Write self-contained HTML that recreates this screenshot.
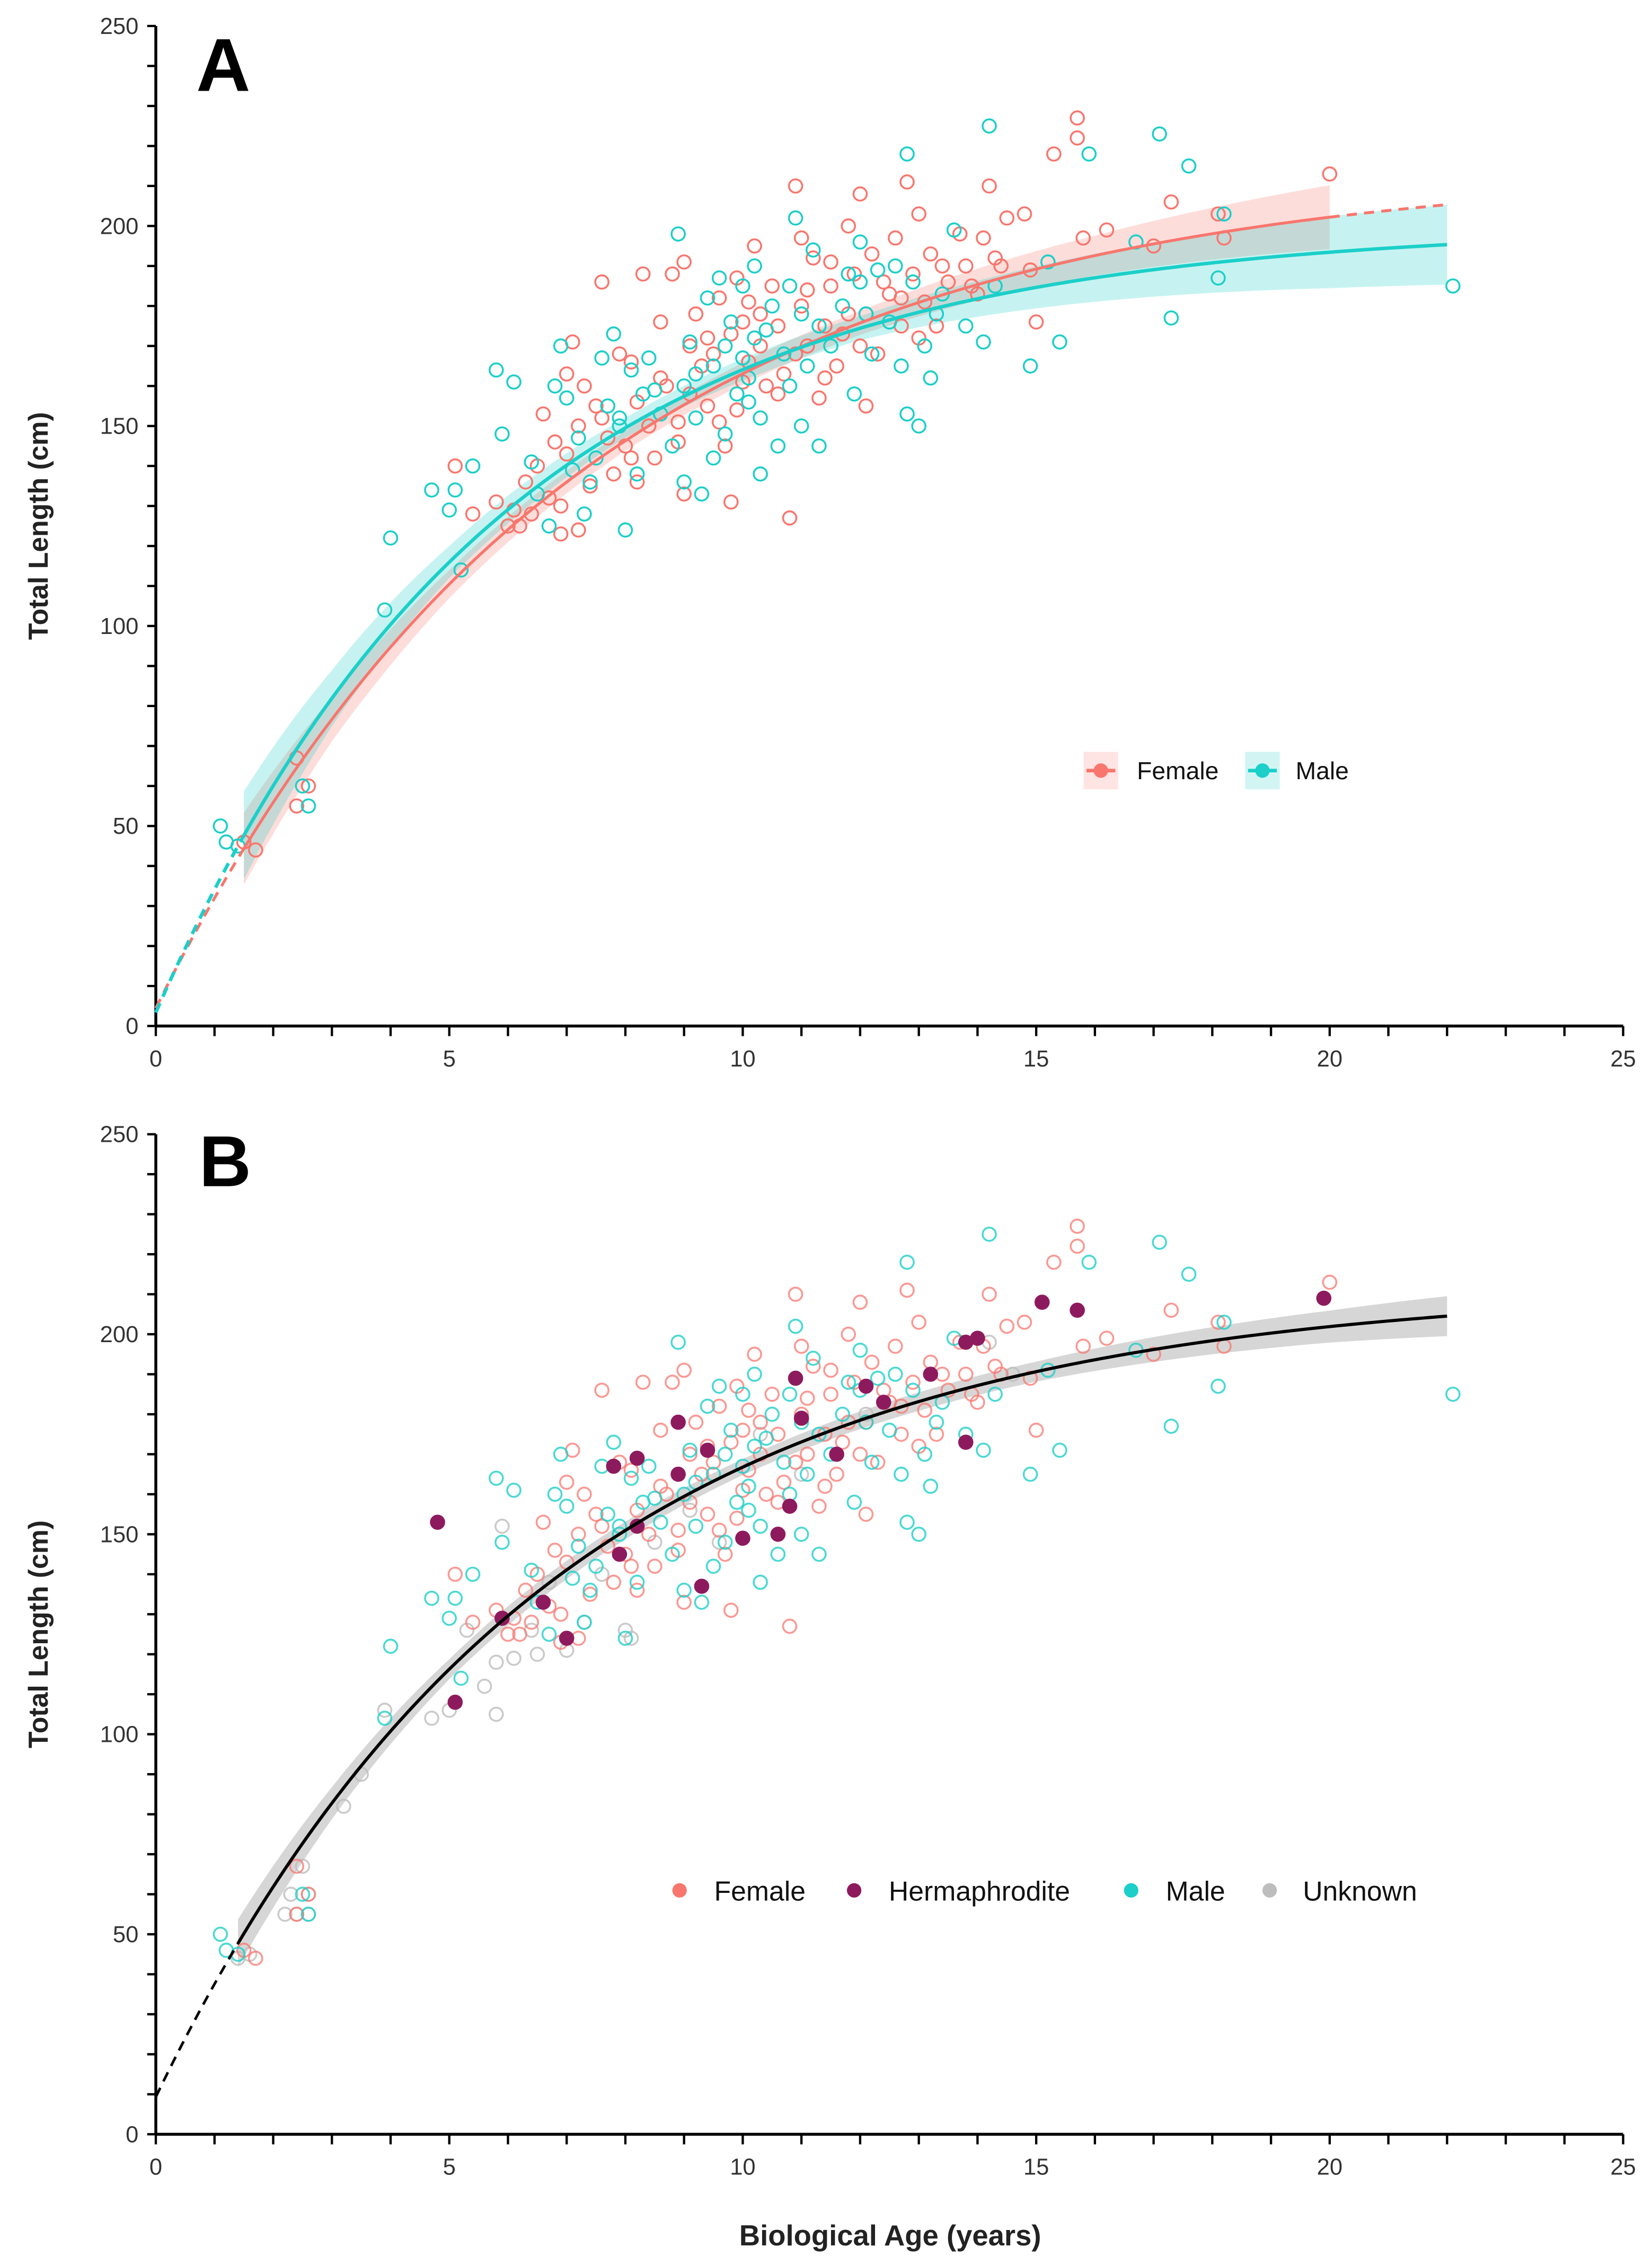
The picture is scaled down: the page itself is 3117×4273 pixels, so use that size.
<!DOCTYPE html>
<html><head><meta charset="utf-8"><style>
html,body{margin:0;padding:0;background:#fff}
svg{display:block}
text{font-family:"Liberation Sans",Arial,sans-serif}
</style></head><body>
<svg id="chart" xmlns="http://www.w3.org/2000/svg" width="3117" height="4273" viewBox="0 0 1145 1569.6" preserveAspectRatio="none">
<g id="panelA"></g>
<g id="panelB"></g>
<text x="617" y="1556" text-anchor="middle" font-size="20" font-weight="bold" fill="#222">Biological Age (years)</text>
</svg>
<script>
const femaleA=[[1.5,46],[1.7,44],[2.4,55],[2.4,67],[2.6,60],[5.1,140],[5.4,128],[5.8,131],[6,125],[6.1,129],[6.2,125],[6.3,136],[6.5,140],[6.6,153],[6.7,132],[6.8,146],[6.9,130],[6.9,123],[7,143],[7,163],[7.1,171],[7.2,150],[7.2,124],[7.3,160],[7.4,135],[7.5,155],[7.6,186],[7.7,147],[7.8,138],[7.9,168],[8,145],[8.1,166],[8.2,156],[8.2,136],[8.3,188],[8.4,150],[8.5,142],[8.6,176],[8.7,160],[8.8,188],[8.9,151],[9,191],[9,133],[9.1,170],[9.2,178],[9.3,165],[9.4,155],[9.5,168],[9.6,182],[9.7,145],[9.8,131],[9.8,173],[9.9,187],[10,161],[10,176],[10.1,181],[10.2,195],[10.3,170],[10.4,160],[10.5,185],[10.6,175],[10.7,163],[10.8,127],[10.9,210],[11,197],[11,180],[11.1,170],[11.2,192],[11.3,157],[11.4,175],[11.5,185],[11.6,165],[11.7,173],[11.8,200],[11.9,188],[12,208],[12.1,178],[12.2,193],[12.3,168],[12.5,183],[12.6,197],[12.7,175],[12.8,211],[12.9,188],[13,203],[13.1,181],[13.2,193],[13.3,175],[13.5,186],[13.7,198],[13.8,190],[14,183],[14.1,197],[14.2,210],[14.3,192],[14.5,202],[14.8,203],[14.9,189],[15,176],[15.3,218],[15.7,227],[15.7,222],[15.8,197],[16.2,199],[17,195],[17.3,206],[18.1,203],[18.2,197],[20,213],[6.4,128],[7.6,152],[8.1,142],[8.6,162],[9.1,158],[9.4,172],[9.6,151],[10.1,166],[10.3,178],[10.6,158],[10.9,168],[11.1,184],[11.4,162],[11.8,178],[12,170],[12.4,186],[12.7,182],[13,172],[13.4,190],[13.9,185],[14.4,190],[12.1,155],[11.5,191],[9.9,154],[8.9,146]];
const maleA=[[1.1,50],[1.2,46],[1.4,45],[2.5,60],[2.6,55],[3.9,104],[4,122],[4.7,134],[5,129],[5.1,134],[5.2,114],[5.4,140],[5.8,164],[5.9,148],[6.1,161],[6.4,141],[6.5,133],[6.7,125],[6.8,160],[6.9,170],[7,157],[7.1,139],[7.2,147],[7.3,128],[7.5,142],[7.6,167],[7.7,155],[7.8,173],[7.9,150],[8,124],[8.1,164],[8.2,138],[8.3,158],[8.4,167],[8.6,153],[8.8,145],[8.9,198],[9,160],[9,136],[9.1,171],[9.2,152],[9.3,133],[9.4,182],[9.5,165],[9.6,187],[9.7,148],[9.8,176],[9.9,158],[10,167],[10,185],[10.1,162],[10.2,190],[10.3,152],[10.3,138],[10.4,174],[10.6,145],[10.7,168],[10.8,185],[10.9,202],[11,178],[11,150],[11.1,165],[11.2,194],[11.3,145],[11.5,170],[11.7,180],[11.9,158],[12,186],[12,196],[12.2,168],[12.3,189],[12.5,176],[12.7,165],[12.8,218],[12.8,153],[12.9,186],[13,150],[13.1,170],[13.2,162],[13.4,183],[13.6,199],[13.8,175],[14.1,171],[14.2,225],[14.3,185],[14.9,165],[15.2,191],[15.4,171],[15.9,218],[16.7,196],[17.1,223],[17.3,177],[17.6,215],[18.1,187],[18.2,203],[22.1,185],[7.4,136],[8.5,159],[9.2,163],[9.7,170],[10.1,156],[10.5,180],[10.8,160],[11.3,175],[11.8,188],[12.1,178],[12.6,190],[13.3,178],[7.9,152],[9.5,142],[10.2,172]];
const hermB=[[4.8,153],[5.1,108],[5.9,129],[6.6,133],[7,124],[7.8,167],[7.9,145],[8.2,152],[8.2,169],[8.9,178],[8.9,165],[9.3,137],[9.4,171],[10,149],[10.6,150],[10.8,157],[10.9,189],[11,179],[11.6,170],[12.4,183],[12.1,187],[13.2,190],[13.8,173],[13.8,198],[14,199],[15.1,208],[15.7,206],[19.9,209]];
const unknownB=[[1.4,44],[1.6,45],[2.2,55],[2.3,60],[2.4,55],[2.5,67],[2.6,60],[2.6,55],[3.2,82],[3.5,90],[3.9,106],[4.7,104],[5,106],[5.3,126],[5.6,112],[5.8,105],[5.8,118],[5.9,152],[6.1,119],[6.4,126],[6.5,120],[6.7,138],[7,121],[7.3,128],[7.6,140],[8,126],[8.1,124],[8.5,148],[9.1,156],[9.6,148],[10.3,175],[10.6,150],[11,165],[12.1,180],[14.2,198],[14.6,190]];
// von Bertalanffy params [Linf, k, t0]
const vbFemale=[215,0.14,-0.15];
const vbMale=[200,0.17,-0.1];
const vbAll=[212,0.15,-0.3];
const ribFemaleAges=[1.5,3,5,8,12,16,20];
const ribFemaleHW=[9,5.5,3.5,2.5,3,5,8];
const ribMaleAges=[1.5,3,5,8,12,16,20,22];
const ribMaleHW=[11,7,4,2.5,3,6,9,10];
const ribAllAges=[1.4,3,5,10,15,20,22];
const ribAllHW=[6,4,2.5,2,2.5,4,5];
const yTicks=[0,50,100,150,200,250];
const xTicks=[0,5,10,15,20,25];
const C={f:'#F8766D',m:'#1CCFC9',h:'#8E1A5E',u:'#BDBDBD'};
const NS='http://www.w3.org/2000/svg';
const px=x=>108+x*40.68;
function mk(tag,attrs,parent){const e=document.createElementNS(NS,tag);for(const k in attrs)e.setAttribute(k,attrs[k]);parent.appendChild(e);return e;}
const vb=(p,t)=>p[0]*(1-Math.exp(-p[1]*(t-p[2])));
function interp(ag,hw,t){if(t<=ag[0])return hw[0];for(let i=1;i<ag.length;i++){if(t<=ag[i]){const f=(t-ag[i-1])/(ag[i]-ag[i-1]);return hw[i-1]+f*(hw[i]-hw[i-1]);}}return hw[hw.length-1];}
function curvePath(p,a,b,py){let d='';for(let t=a;t<=b+1e-9;t+=0.1){d+=(d?'L':'M')+px(t).toFixed(2)+','+py(vb(p,t)).toFixed(2);}return d;}
function ribbon(p,ag,hw,a,b,py){let up=[],lo=[];for(let t=a;t<=b+1e-9;t+=0.1){const v=vb(p,t),h=interp(ag,hw,t);up.push(px(t).toFixed(2)+','+py(v+h).toFixed(2));lo.unshift(px(t).toFixed(2)+','+py(v-h).toFixed(2));}return 'M'+up.join('L')+'L'+lo.join('L')+'Z';}
function axes(g,y0,name){
 const py=v=>y0-v*2.772;
 mk('line',{x1:108,y1:py(250),x2:108,y2:y0,stroke:'#000','stroke-width':2},g);
 mk('line',{x1:108,y1:y0,x2:1125,y2:y0,stroke:'#000','stroke-width':2},g);
 for(let v=0;v<=250;v+=10){const l=mk('line',{x1:102,y1:py(v),x2:108,y2:py(v),stroke:'#000','stroke-width':1.6},g);}
 for(let x=0;x<=25;x++){const l=mk('line',{x1:px(x),y1:y0,x2:px(x),y2:y0+7,stroke:'#000','stroke-width':1.6},g);}
 yTicks.forEach(v=>{const t=mk('text',{x:96,y:py(v)+5.5,'text-anchor':'end','font-size':16,fill:'#333'},g);t.textContent=v;});
 xTicks.forEach(v=>{const t=mk('text',{x:px(v),y:y0+28,'text-anchor':'middle','font-size':16,fill:'#333'},g);t.textContent=v;});
 const yt=mk('text',{x:0,y:0,'text-anchor':'middle','font-size':19,'font-weight':'bold',fill:'#222',transform:`translate(33,${py(125)}) rotate(-90)`},g);yt.textContent='Total Length (cm)';
 
 
 return py;
}
function pts(g,arr,col,py,filled,op,name){arr.forEach(p=>{const c=mk('circle',{cx:px(p[0]),cy:py(p[1]),r:4.6,fill:filled?col:'none',stroke:col,'stroke-width':1.3,opacity:op},g);});}
// Panel A
const gA=document.getElementById('panelA');
const pyA=axes(gA,711,'panel-a');
let r=mk('path',{d:ribbon(vbFemale,ribFemaleAges,ribFemaleHW,1.5,20,pyA),fill:C.f,opacity:0.25},gA);
r=mk('path',{d:ribbon(vbMale,ribMaleAges,ribMaleHW,1.5,22,pyA),fill:C.m,opacity:0.25},gA);
pts(gA,femaleA,C.f,pyA,false,1,'female-point');
pts(gA,maleA,C.m,pyA,false,1,'male-point');
let l=mk('path',{d:curvePath(vbFemale,1.5,20,pyA),fill:'none',stroke:C.f,'stroke-width':2},gA);
l=mk('path',{d:curvePath(vbFemale,0,1.5,pyA)+curvePath(vbFemale,20,22,pyA),fill:'none',stroke:C.f,'stroke-width':2,'stroke-dasharray':'7,5'},gA);
l=mk('path',{d:curvePath(vbMale,1.5,22,pyA),fill:'none',stroke:C.m,'stroke-width':2.4},gA);
l=mk('path',{d:curvePath(vbMale,0,1.5,pyA),fill:'none',stroke:C.m,'stroke-width':2.4,'stroke-dasharray':'7,5'},gA);
let t=mk('text',{x:136,y:63,'font-size':52,'font-weight':'bold',fill:'#000'},gA);t.textContent='A';
const legA=mk('g',{},gA);
[[751,C.f,'Female',788],[863,C.m,'Male',898]].forEach(e=>{
 const gg=mk('g',{},legA);
 mk('rect',{x:e[0],y:521,width:24,height:26,fill:e[1],opacity:0.2},gg);
 mk('line',{x1:e[0]+2,y1:534,x2:e[0]+22,y2:534,stroke:e[1],'stroke-width':2.5},gg);
 mk('circle',{cx:e[0]+12,cy:534,r:5,fill:e[1]},gg);
 const tx=mk('text',{x:e[3],y:540,'font-size':17,fill:'#111'},gg);tx.textContent=e[2];});
// Panel B
const gB=document.getElementById('panelB');
const pyB=axes(gB,1479,'panel-b');
r=mk('path',{d:ribbon(vbAll,ribAllAges,ribAllHW,1.4,22,pyB),fill:'#999',opacity:0.4},gB);
pts(gB,unknownB,C.u,pyB,false,0.8,'unknown-point');
pts(gB,femaleA,C.f,pyB,false,0.75,'female-point');
pts(gB,maleA,C.m,pyB,false,0.8,'male-point');
pts(gB,hermB,C.h,pyB,true,1,'hermaphrodite-point');
l=mk('path',{d:curvePath(vbAll,1.4,22,pyB),fill:'none',stroke:'#000','stroke-width':2.2},gB);
l=mk('path',{d:curvePath(vbAll,0,1.4,pyB),fill:'none',stroke:'#000','stroke-width':1.8,'stroke-dasharray':'7,5'},gB);
t=mk('text',{x:138,y:822,'font-size':50,'font-weight':'bold',fill:'#000'},gB);t.textContent='B';
const legB=mk('g',{},gB);
[[471,C.f,'Female',495],[592,C.h,'Hermaphrodite',616],[784,C.m,'Male',808],[880,C.u,'Unknown',903]].forEach(e=>{
 const gg=mk('g',{},legB);
 mk('circle',{cx:e[0],cy:1310,r:5,fill:e[1]},gg);
 const tx=mk('text',{x:e[3],y:1317,'font-size':19,fill:'#111'},gg);tx.textContent=e[2];});
</script>
</body></html>
